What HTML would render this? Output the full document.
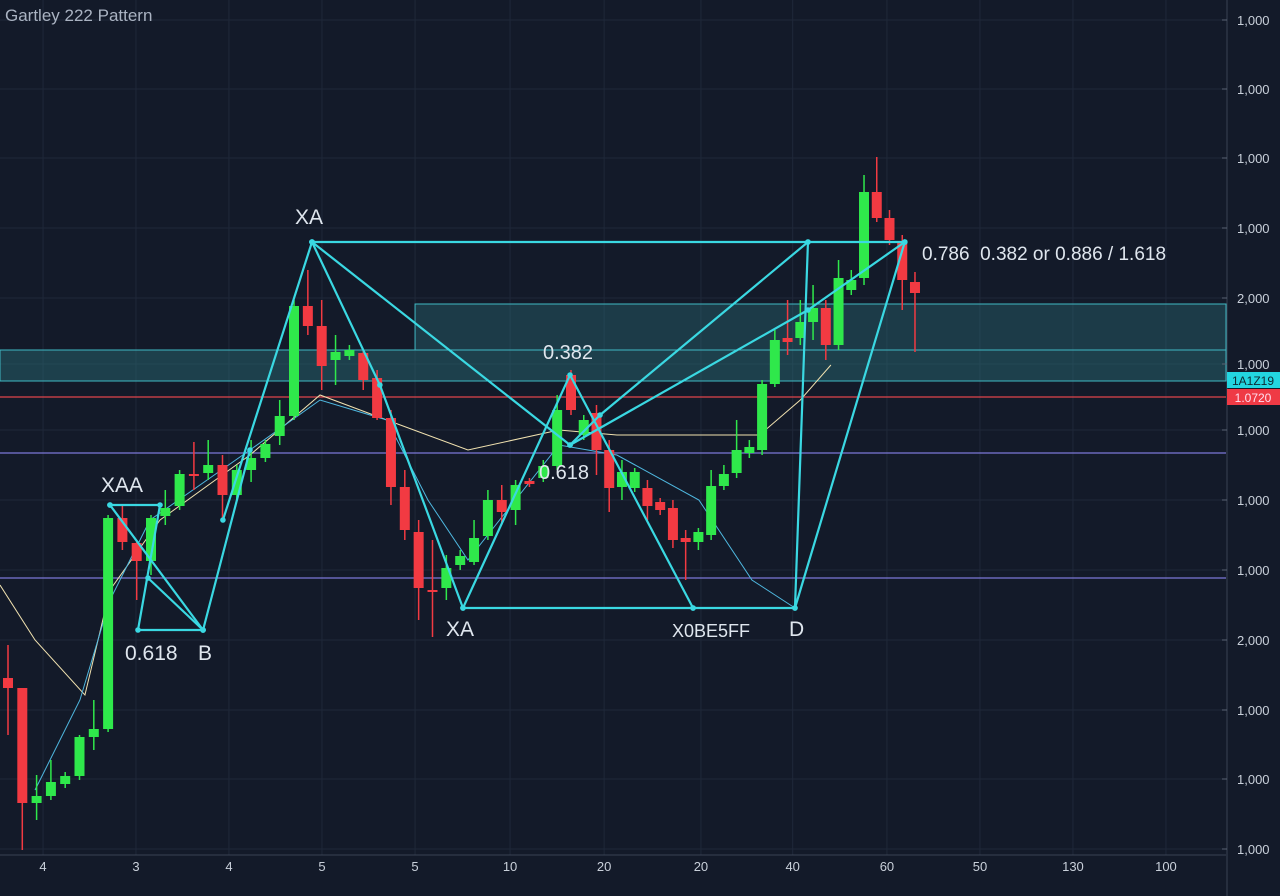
<!DOCTYPE html>
<html><head><meta charset="utf-8"><style>
html,body{margin:0;padding:0;background:#121827;}
svg{display:block;font-family:"Liberation Sans",sans-serif;}
</style></head><body>
<svg id="chart" width="1280" height="896" viewBox="0 0 1280 896">
<rect x="0" y="0" width="1280" height="896" fill="#131a29"/>
<g id="grid"></g>
<g id="zones"></g>
<g id="ma"></g>
<g id="candles"></g>
<g id="pattern"></g>
<g id="axes"></g>
<text x="5" y="21" fill="#aab3c2" font-size="17">Gartley 222 Pattern</text>
</svg>
<script>
// ---- data ----
const opens  = [202,192,77,84,96,104,143,151,362,337,319,364,374,406,407,415,385,410,422,444,464,574,554,520,524,527,502,462,393,348,290,292,315,318,344,380,370,399,402,414,505,445,467,430,393,392,392,378,372,342,338,345,394,407,427,430,496,542,542,558,572,535,590,602,688,662,638,598];
const closes = [192,77,84,98,104,143,151,362,338,319,362,372,406,404,415,385,410,422,436,464,574,554,514,528,530,500,462,393,350,292,288,312,324,342,380,368,395,396,414,470,470,460,430,392,408,408,374,370,340,338,348,394,406,430,433,496,540,538,558,572,535,602,600,688,662,640,600,587];
const highs  = [235,192,105,120,108,145,180,365,375,340,365,390,410,438,440,425,415,440,440,480,580,610,580,545,535,530,510,470,410,360,340,325,330,360,390,395,400,402,420,485,510,465,475,440,420,412,400,382,380,350,352,410,415,460,440,500,550,580,580,595,580,620,610,705,723,670,645,608];
const lows   = [145,30,60,80,92,100,130,148,330,280,305,355,370,390,400,360,380,398,418,435,460,545,490,495,520,490,460,375,340,260,243,280,310,315,340,355,355,393,398,410,465,440,405,368,380,388,360,365,332,300,330,340,390,402,422,425,493,525,535,540,520,530,585,595,658,635,570,528];
const maYellowBars = [-0.56,1.89,5.38,7.13,10.63,16.92,21.88,26.7,32.56,39.13,43.6,54.8,58,60.4];
const maYellow = [295,240,185,290,360,425,485,460,430,450,445,445,480,515];
const maBlueBars = [1.89,5.03,7.13,9.93,16.92,21.88,26.7,29.67,32.56,39.13,43.6,50.04,54.2,57.58];
const maBlue = [90,180,280,360,430,480,460,380,320,435,425,380,300,272];
const patternBars  = [7.13,10.63,9.09,13.64,7.13, 13.64,16.92, 9.79,13.64, 21.3,58.6,66.2, 21.3,15.03, 21.3,26.2,32.2,49.58,57.58,66.2, 21.3,39.93,42.28,58.6,57.58, 32.2,39.93,49.58, 39.93,58.6,66.2];
const patternPrices= [375,375,250,250,375, 250,430, 302,250, 638,638,638, 638,360, 638,495,272,272,272,638, 638,435,465,638,272, 272,505,272, 435,570,638];
const patternSegs  = [[0,5],[5,7],[7,9],[9,12],[12,14],[14,20],[20,25],[25,28],[28,31]];
const priceTicks = [860,791,722,652,582,516,450,380,310,240,170,101,31];
const priceTickLabels = ["1,000","1,000","1,000","1,000","2,000","1,000","1,000","1,000","1,000","2,000","1,000","1,000","1,000"];
const timeTickBars = [2.45,8.95,15.45,22.02,28.74,35.6,42.6,50.2,57.4,64.8,72.1,79.4,86.7];
const timeTickLabels = ["4","3","4","5","5","10","20","20","40","60","50","130","100"];

// ---- scales ----
const NS='http://www.w3.org/2000/svg';
const plotRight = 1226, plotBottom = 855;
function xScale(i){
  if(i<=20) return 8 + i*14.3;
  if(i<=40) return 294 + (i-20)*13.85;
  return 571 + (i-40)*12.74;
}
function yScale(p){ return 880 - p; }
function mk(tag, attrs, parent){ const e=document.createElementNS(NS,tag); for(const k in attrs) e.setAttribute(k, attrs[k]); parent.appendChild(e); return e; }

const grid=document.getElementById('grid');
priceTicks.forEach((p)=>{
  const l=mk('line',{x1:0,x2:plotRight,y1:yScale(p),y2:yScale(p),stroke:'#1f2839','stroke-width':1},grid);
  
  
});
timeTickBars.forEach((b)=>{
  const l=mk('line',{x1:xScale(b),x2:xScale(b),y1:0,y2:plotBottom,stroke:'#1f2839','stroke-width':1},grid);
  
  
});

// zones & levels
const zones=document.getElementById('zones');
let z=mk('rect',{x:0,y:yScale(530),width:plotRight,height:31,fill:'#2a6f78','fill-opacity':0.45,stroke:'#3fb9c4','stroke-width':1},zones);


z=mk('rect',{x:xScale(28.74),y:yScale(576),width:plotRight-xScale(28.74),height:46,fill:'#2a6f78','fill-opacity':0.4,stroke:'#3fb9c4','stroke-width':1},zones);


[[483,'#e0444c'],[427,'#7b78d8'],[302,'#7b78d8']].forEach(([p,c])=>{
  const l=mk('line',{x1:0,x2:plotRight,y1:yScale(p),y2:yScale(p),stroke:c,'stroke-width':1.2},zones);
  
  
});

// moving averages
const ma=document.getElementById('ma');
let pl=mk('polyline',{points:maYellowBars.map((b,i)=>xScale(b)+','+yScale(maYellow[i])).join(' '),fill:'none',stroke:'#f1e2b0','stroke-width':1},ma);


pl=mk('polyline',{points:maBlueBars.map((b,i)=>xScale(b)+','+yScale(maBlue[i])).join(' '),fill:'none',stroke:'#4fb8e0','stroke-width':1},ma);



// candles
const cg=document.getElementById('candles');
opens.forEach((o,i)=>{
  const c=closes[i], up=c>=o, col=up?'#2fe84b':'#f23a42', x=xScale(i);
  const w=mk('line',{x1:x,x2:x,y1:yScale(highs[i]),y2:yScale(lows[i]),stroke:col,'stroke-width':1.5},cg);
  
  
  const top=yScale(Math.max(o,c)), h=Math.max(2,Math.abs(o-c));
  const r=mk('rect',{x:x-5,y:top,width:10,height:h,fill:col},cg);
  
  
});

// pattern
const pg=document.getElementById('pattern');
patternSegs.forEach(([a,b])=>{
  const pts=[];
  for(let k=a;k<b;k++) pts.push(xScale(patternBars[k])+','+yScale(patternPrices[k]));
  const p=mk('polyline',{points:pts.join(' '),fill:'none',stroke:'#3ad8e2','stroke-width':2.2,'stroke-linejoin':'round'},pg);
  
  
});
patternBars.forEach((b,k)=>{
  const d=mk('circle',{cx:xScale(b),cy:yScale(patternPrices[k]),r:2.8,fill:'#3ad8e2'},pg);
  
  
});
const labels=[['XA',295,224,21],['XAA',101,492,21],['0.618',125,660,21],['B',198,660,21],['XA',446,636,21],['0.382',543,359,20],['0.618',539,479,20],['X0BE5FF',672,637,18],['D',789,636,21],['0.786\u00a0\u00a00.382 or 0.886 / 1.618',922,260,19]];
labels.forEach(([t,x,y,s])=>{
  const e=mk('text',{x:x,y:y,fill:'#dfe6ee','font-size':s},pg);
  e.textContent=t;
  
  
});

// axes
const ax=document.getElementById('axes');
let a=mk('line',{x1:plotRight+1,x2:plotRight+1,y1:0,y2:896,stroke:'#3a4354','stroke-width':1},ax);


a=mk('line',{x1:0,x2:plotRight,y1:plotBottom,y2:plotBottom,stroke:'#3a4354','stroke-width':1},ax);


priceTicks.forEach((p,i)=>{
  const t=mk('line',{x1:plotRight-4,x2:plotRight+1,y1:yScale(p),y2:yScale(p),stroke:'#5a6373'},ax);
  
  
  const e=mk('text',{x:1237,y:yScale(p)+5,fill:'#c9d0da','font-size':13},ax);
  e.textContent=priceTickLabels[i];
  
  
});
timeTickBars.forEach((b,i)=>{
  const e=mk('text',{x:xScale(b),y:871,fill:'#c9d0da','font-size':13,'text-anchor':'middle'},ax);
  e.textContent=timeTickLabels[i];
  
  
});
[['1A1Z19',500,'#23d6e0','#0d2a33'],['1.0720',483,'#ef3a45','#fde']].forEach(([t,p,bg,fg])=>{
  const r=mk('rect',{x:1227,y:yScale(p)-8,width:53,height:16,fill:bg},ax);
  
  
  const e=mk('text',{x:1253,y:yScale(p)+5,fill:fg,'font-size':12,'text-anchor':'middle'},ax);
  e.textContent=t;
  
  
});
</script>
</body></html>
